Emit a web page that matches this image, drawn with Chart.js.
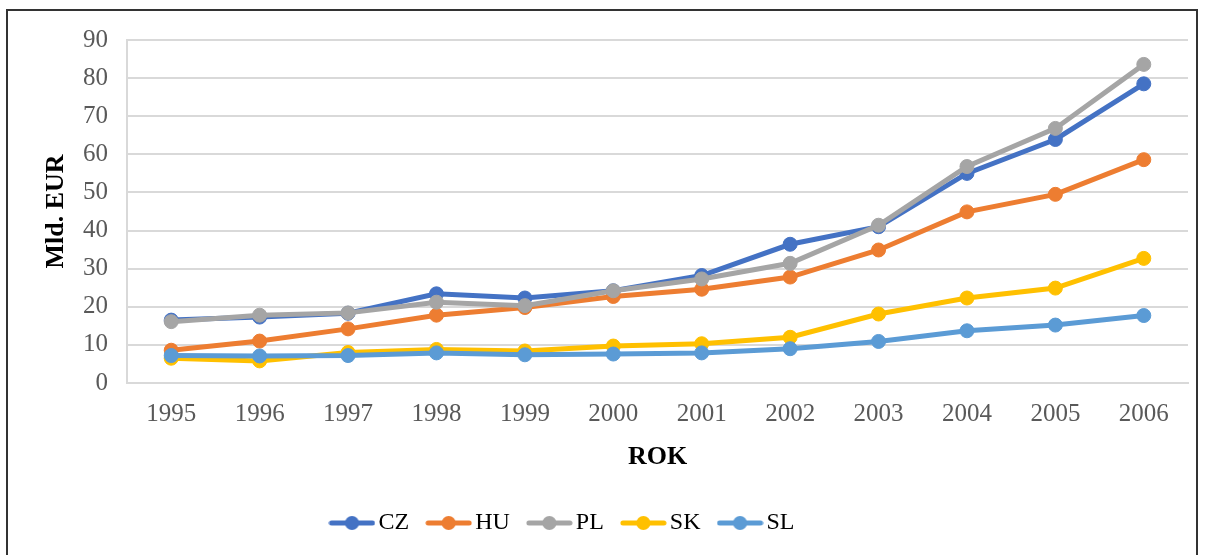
<!DOCTYPE html>
<html>
<head>
<meta charset="utf-8">
<script src="https://cdn.jsdelivr.net/npm/chart.js@4/dist/chart.umd.min.js"></script>
<style>
  html, body { margin: 0; padding: 0; background: #fff; }
  #frame {
    position: absolute; left: 6px; top: 9px;
    width: 1192px; height: 560px;
    border: 2px solid #333; box-sizing: border-box;
  }
  #chartBox { position: absolute; left: 0; top: -5px; width: 1190px; height: 549px; }
</style>
</head>
<body>
<div id="frame"><div id="chartBox"><canvas id="gdpChart"></canvas></div></div>
<script>
const years = ['1995', '1996', '1997', '1998', '1999', '2000', '2001', '2002', '2003', '2004', '2005', '2006'];
const cz = [16.5, 17.3, 18.3, 23.4, 22.3, 24.2, 28.2, 36.4, 41.0, 55.0, 63.9, 78.5];
const hu = [8.6, 11.0, 14.2, 17.8, 19.8, 22.7, 24.6, 27.8, 34.9, 44.9, 49.5, 58.6];
const pl = [16.1, 17.8, 18.4, 21.2, 20.3, 24.2, 27.3, 31.4, 41.4, 56.8, 66.8, 83.6];
const sk = [6.5, 5.8, 8.0, 8.8, 8.4, 9.7, 10.3, 12.0, 18.1, 22.3, 24.9, 32.7];
const sl = [7.2, 7.1, 7.2, 7.9, 7.4, 7.6, 7.9, 9.0, 10.9, 13.7, 15.2, 17.7];
const yTicks = [0, 10, 20, 30, 40, 50, 60, 70, 80, 90];

const serif = '"Liberation Serif", "Times New Roman", serif';
const colors = ['#4472C4', '#ED7D31', '#A5A5A5', '#FFC000', '#5B9BD5'];

// little line-with-dot picture for the legend
function legendMark(color) {
    const c = document.createElement('canvas');
    c.width = 47; c.height = 16;
    const g = c.getContext('2d');
    g.strokeStyle = color; g.lineWidth = 5; g.lineCap = 'round';
    g.beginPath(); g.moveTo(3, 8); g.lineTo(44, 8); g.stroke();
    g.fillStyle = color;
    g.beginPath(); g.arc(23.5, 8, 7, 0, Math.PI * 2); g.fill();
    return c;
}
const marks = colors.map(legendMark);

function series(label, data, color, order) {
    return {
        label: label,
        data: data,
        borderColor: color,
        backgroundColor: color,
        pointBackgroundColor: color,
        pointBorderColor: color,
        pointStyle: 'circle',
        borderWidth: 5,
        pointRadius: 7,
        pointHoverRadius: 7,
        pointBorderWidth: 1,
        order: order
    };
}

const shiftLegend = {
    id: 'shiftLegend',
    afterLayout(chart) {
        chart.legend.left -= 32;
        chart.legend.right -= 32;
    }
};

document.addEventListener('DOMContentLoaded', function () {
    const ctx = document.getElementById('gdpChart').getContext('2d');

    new Chart(ctx, {
        type: 'line',
        data: {
            labels: years,
            datasets: [
                series('CZ', cz, colors[0], 5),
                series('HU', hu, colors[1], 4),
                series('PL', pl, colors[2], 3),
                series('SK', sk, colors[3], 2),
                series('SL', sl, colors[4], 1)
            ]
        },
        options: {
            responsive: true,
            maintainAspectRatio: false,
            animation: false,
            layout: { padding: { top: 16, right: 10, left: 0, bottom: 10 } },
            plugins: {
                tooltip: { enabled: false },
                legend: {
                    position: 'bottom',
                    labels: {
                        usePointStyle: true,
                        pointStyleWidth: 29,
                        boxHeight: 16,
                        padding: 25,
                        color: '#000',
                        font: { family: serif, size: 24 },
                        sort: (a, b) => a.datasetIndex - b.datasetIndex,
                        generateLabels: function (chart) {
                            const items = Chart.defaults.plugins.legend.labels.generateLabels(chart);
                            items.forEach(it => { it.pointStyle = marks[it.datasetIndex]; });
                            return items;
                        }
                    }
                }
            },
            scales: {
                x: {
                    offset: true,
                    grid: { display: false, drawTicks: false },
                    border: { display: true, color: '#d9d9d9', width: 2 },
                    ticks: { color: '#595959', padding: 16, font: { family: serif, size: 25 } },
                    title: {
                        display: true, text: 'ROK', color: '#000',
                        padding: { top: -1, bottom: 16 },
                        font: { family: serif, size: 26, weight: 'bold', lineHeight: 1 }
                    }
                },
                y: {
                    min: 0, max: 90,
                    afterBuildTicks: function (axis) {
                        axis.ticks = yTicks.map(v => ({ value: v }));
                    },
                    afterFit: function (axis) { axis.width = 119; },
                    grid: { color: '#d9d9d9', lineWidth: 2, drawTicks: false },
                    border: { display: true, color: '#d9d9d9', width: 2 },
                    ticks: { color: '#595959', padding: 19, font: { family: serif, size: 25 } },
                    title: {
                        display: true, text: 'Mld. EUR', color: '#000',
                        padding: { top: 33, bottom: 12 },
                        font: { family: serif, size: 26, weight: 'bold' }
                    }
                }
            }
        },
        plugins: [shiftLegend]
    });
});
</script>
</body>
</html>
